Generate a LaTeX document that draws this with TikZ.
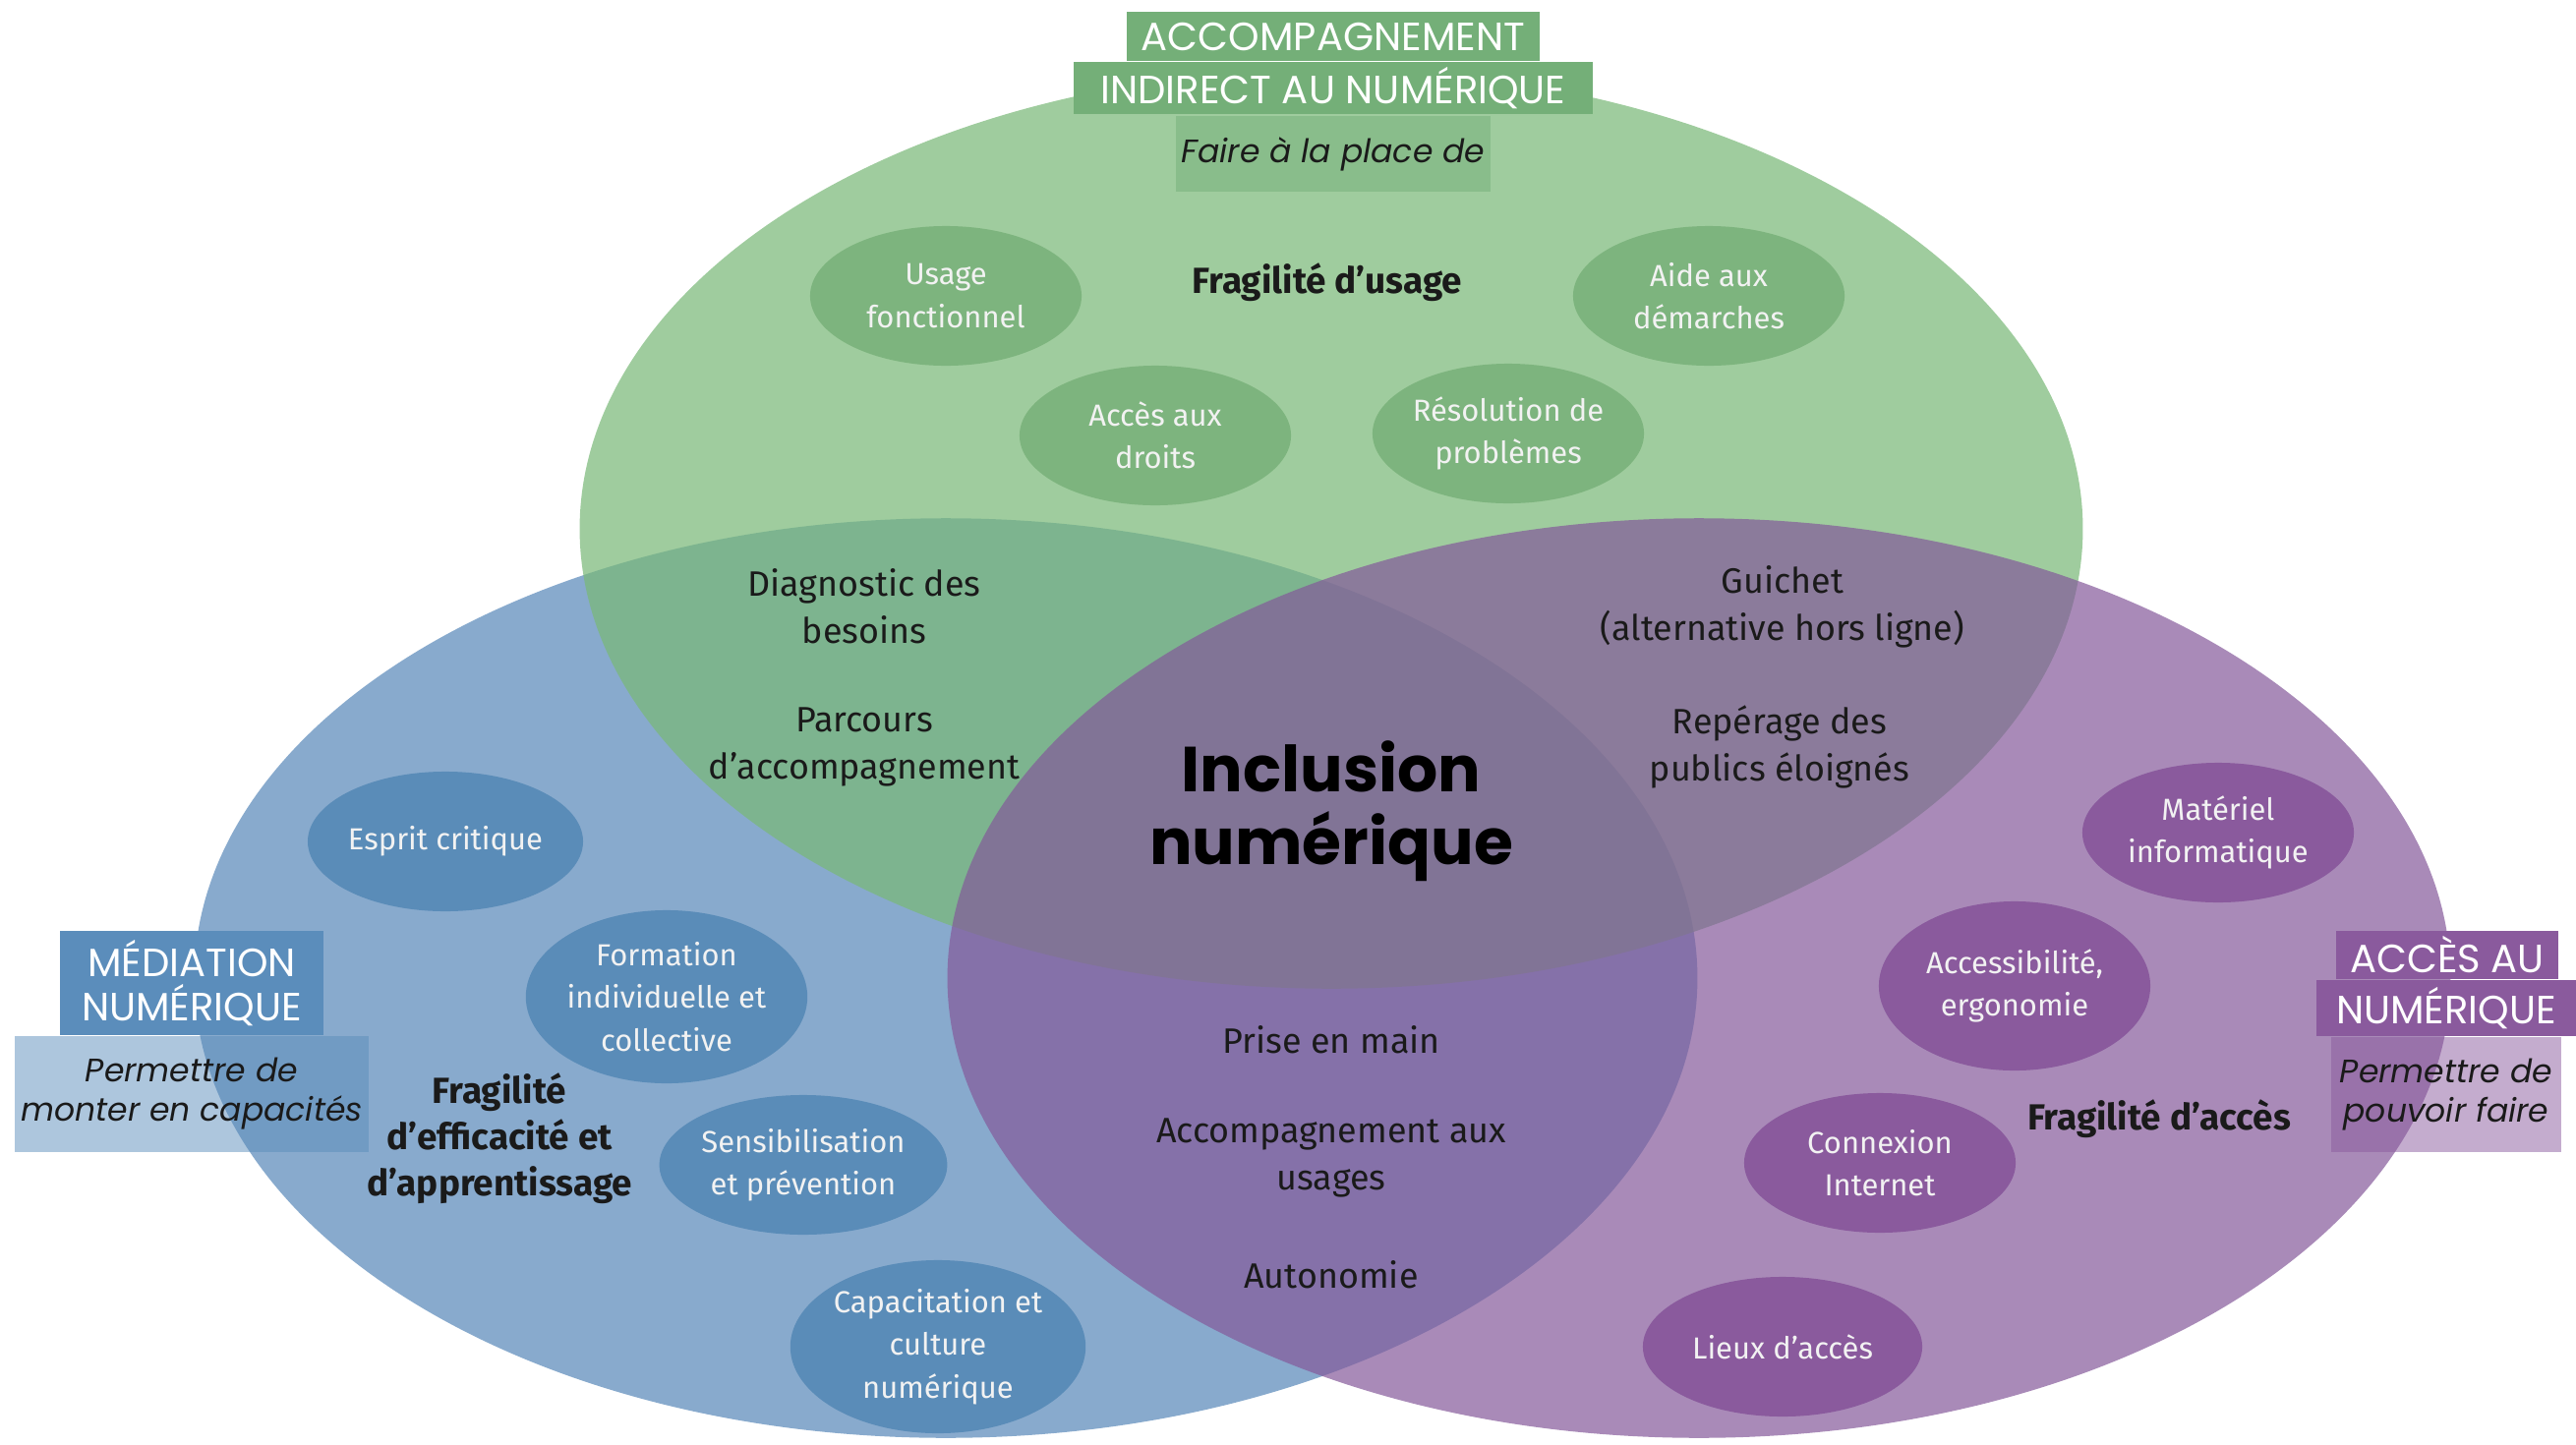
\documentclass[tikz,border=0pt]{standalone}
\usepackage{fontspec}
\setmainfont{Fira Sans}
\newfontfamily\headfont{Poppins}
\usetikzlibrary{positioning}
\usetikzlibrary{shapes.geometric}

\definecolor{usage green}{HTML}{7AB978}
\definecolor{usage dark}{HTML}{7DB47E}
\definecolor{usage head}{HTML}{74AF78}
\definecolor{media blue}{HTML}{88AACD}
\definecolor{media dark}{HTML}{5A8CB8}
\definecolor{media head}{HTML}{5B8DBB}
\definecolor{acces purple}{HTML}{84599A}
\definecolor{acces dark}{HTML}{8A5A9D}
\definecolor{acces head}{HTML}{8A5A9D}
\definecolor{ink}{HTML}{1A1A1A}
\definecolor{topic text}{HTML}{F2F2F2}

\tikzset {
  % one of the three big sets
  venn set/.style = {
    ellipse,
    inner sep = 0,
    minimum width = 15.28cm,
    minimum height = 9.35cm
  },
  % small topic inside a set
  topic/.style = {
    ellipse,
    inner sep = 0,
    minimum width = 2.76cm,
    minimum height = 1.42cm,
    align = center,
    text = topic text,
    font = \fontsize{8.8}{12.3}\selectfont
  },
  tall topic/.style = {
    topic,
    minimum height = 1.76cm
  },
  % fragility of each set
  fragility/.style = {
    align = center,
    text = ink,
    font = \fontsize{10.5}{13.3}\selectfont\bfseries
  },
  % text in the overlaps
  shared/.style = {
    align = center,
    text = ink,
    font = \fontsize{10.2}{13.7}\selectfont
  },
  % title of a set
  head/.style = {
    inner sep = 0,
    align = center,
    text = white,
    font = \headfont\fontsize{11.4}{12.8}\selectfont
  },
  % subtitle under a title
  subhead/.style = {
    inner sep = 0,
    align = center,
    fill opacity = 0.5,
    text opacity = 1,
    text = ink,
    font = \headfont\itshape\fontsize{9.4}{11.4}\selectfont
  }
}

\begin{document}
\begin{tikzpicture}[x=0.01cm, y=-0.01cm]
    \useasboundingbox (0,0) rectangle (2620,1469);

    % the three sets
    \node[venn set, fill=media blue] (media set) at (962,995) {};
    \node[venn set, fill=usage green, fill opacity=0.72] (usage set) at (1354,538) {};
    \node[venn set, fill=acces purple, fill opacity=0.7] (acces set) at (1728,995) {};

    % usage set
    \node[topic, fill=usage dark] (fonctionnel) at (962,301) {Usage\\fonctionnel};
    \node[topic, fill=usage dark] (demarches) at (1738,301) {Aide aux\\démarches};
    \node[topic, fill=usage dark] (droits) at (1175,443) {Accès aux\\droits};
    \node[topic, fill=usage dark] (problemes) at (1534,441) {Résolution de\\problèmes};
    \node[fragility] (usage frag) at (1350,287) {Fragilité d’usage};

    % media set
    \node[topic, fill=media dark] (critique) at (453,856) {Esprit critique};
    \node[tall topic, fill=media dark] (formation) at (678,1014) {Formation\\individuelle et\\collective};
    \node[topic, fill=media dark] (sensib) at (817,1185) {Sensibilisation\\et prévention};
    \node[tall topic, fill=media dark] (culture) at (954,1370) {Capacitation et\\culture\\numérique};
    \node[fragility] (media frag) at (508,1158) {Fragilité\\d’efficacité et\\d’apprentissage};

    % acces set
    \node[topic, fill=acces dark] (materiel) at (2256,847) {Matériel\\informatique};
    \node[tall topic, fill=acces dark, minimum height=1.72cm] (ergonomie) at (2049,1003) {Accessibilité,\\ergonomie};
    \node[topic, fill=acces dark] (connexion) at (1912,1183) {Connexion\\Internet};
    \node[topic, fill=acces dark, minimum width=2.84cm] (lieux) at (1813,1370) {Lieux d'accès};
    \node[fragility] (acces frag) at (2196,1138) {Fragilité d’accès};

    % overlaps
    \node[shared] (diagnostic) at (879,617) {Diagnostic des\\besoins};
    \node[shared] (parcours) at (879,760) {Parcours\\d’accompagnement};
    \node[shared] (guichet) at (1813,617) {Guichet\\(alternative hors ligne)};
    \node[shared] (reperage) at (1810,760) {Repérage des\\publics éloignés};
    \node[shared] (prise) at (1354,1058) {Prise en main};
    \node[shared] (usages) at (1354,1178) {Accompagnement aux\\usages};
    \node[shared] (autonomie) at (1354,1297) {Autonomie};
    \node[align=center, text=black, font=\headfont\bfseries\fontsize{18.4}{20.9}\selectfont]
      (inclusion) at (1354,825) {Inclusion\\numérique};

    % titles
    \node[head, fill=usage head, minimum width=4.2cm, minimum height=0.5cm]
      (usage title 1) at (1356,37) {ACCOMPAGNEMENT};
    \node[head, fill=usage head, minimum width=5.28cm, minimum height=0.53cm,
      below=0pt of usage title 1] (usage title 2) {INDIRECT AU NUMÉRIQUE};
    \node[subhead, fill=usage head, minimum width=3.19cm, minimum height=0.77cm,
      below=0pt of usage title 2] (usage sub) {Faire à la place de};

    \node[head, fill=media head, minimum width=2.67cm, minimum height=1.06cm]
      (media title) at (195,1000) {MÉDIATION\\NUMÉRIQUE};
    \node[subhead, fill=media head, minimum width=3.59cm, minimum height=1.17cm,
      below=0pt of media title] (media sub) {Permettre de\\monter en capacités};

    \node[head, fill=acces head, minimum width=2.26cm, minimum height=0.49cm]
      (acces title 1) at (2489,971) {ACCÈS AU};
    \node[head, fill=acces head, minimum width=2.64cm, minimum height=0.57cm,
      below=0pt of acces title 1, xshift=-0.01cm] (acces title 2) {NUMÉRIQUE};
    \node[subhead, fill=acces head, minimum width=2.34cm, minimum height=1.17cm,
      below=0pt of acces title 2] (acces sub) {Permettre de\\pouvoir faire};
\end{tikzpicture}
\end{document}
